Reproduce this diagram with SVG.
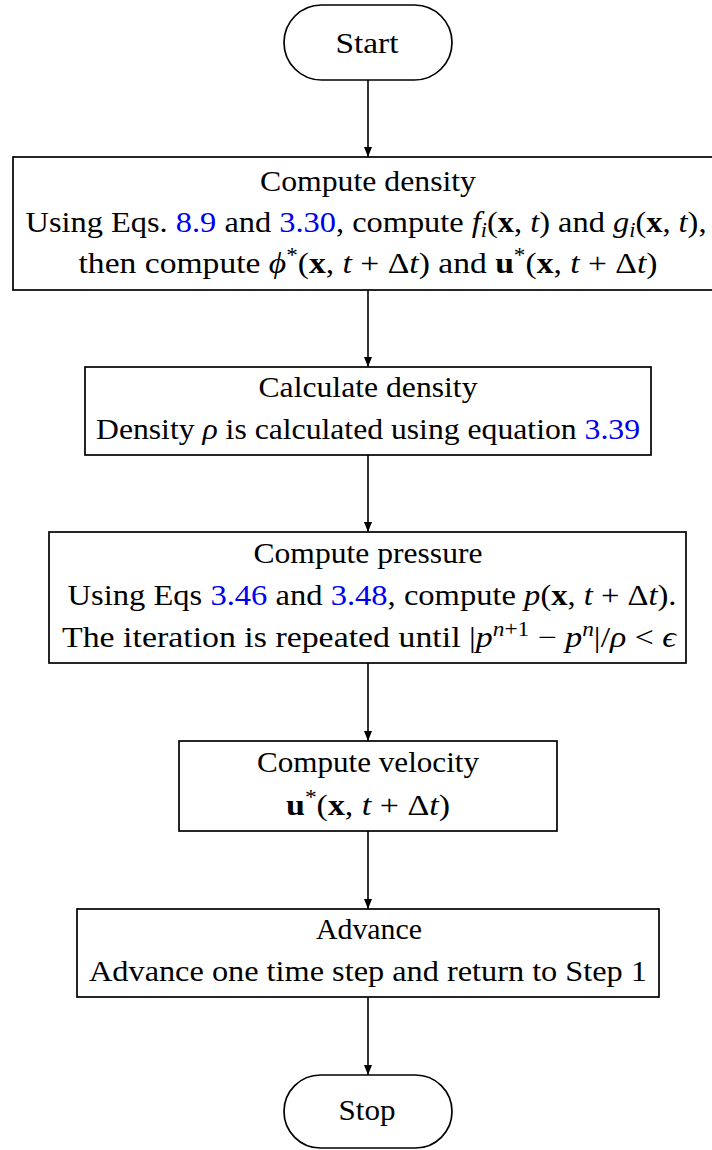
<svg xmlns="http://www.w3.org/2000/svg" width="712" height="1150" viewBox="0 0 712 1150">
<defs>
<marker id="ah" viewBox="0 0 10 10" refX="10" refY="5" markerWidth="10" markerHeight="10" markerUnits="userSpaceOnUse" orient="auto">
<path d="M0,1 L10,5 L0,9 Z" fill="#000"/>
</marker>
</defs>
<style>
.b{fill:#fff;stroke:#000;stroke-width:1.7}
text{font-size:29px;fill:#000;text-anchor:middle}
.i{font-style:italic}
.bf{font-weight:bold}
.r{fill:#0000ee}
.sub{font-size:20px;baseline-shift:-5px}
.sup{font-size:20px;baseline-shift:11px}
.c{stroke:#000;stroke-width:1.6;fill:none;marker-end:url(#ah)}
</style>
<rect width="712" height="1150" fill="#fff"/>
<g id="connectors">
<line class="c" x1="368" y1="80" x2="368" y2="157"/>
<line class="c" x1="368" y1="290" x2="368" y2="367"/>
<line class="c" x1="368" y1="455" x2="368" y2="532"/>
<line class="c" x1="368" y1="663" x2="368" y2="741"/>
<line class="c" x1="368" y1="831" x2="368" y2="909"/>
<line class="c" x1="368" y1="997" x2="368" y2="1075"/>
</g>
<g font-family="Liberation Serif">
<g id="start">
<rect class="b" x="284" y="5" width="168" height="75" rx="37.5"/>
<text x="367" y="53" textLength="63" lengthAdjust="spacingAndGlyphs">Start</text>
</g>
<g id="compute-density">
<rect class="b" x="13" y="157" width="712" height="133"/>
<text x="368" y="191" textLength="216" lengthAdjust="spacingAndGlyphs">Compute density</text>
<text x="366" y="232" textLength="681" lengthAdjust="spacingAndGlyphs">Using Eqs. <tspan class="r">8.9</tspan> and <tspan class="r">3.30</tspan>, compute <tspan class="i">f</tspan><tspan class="i sub">i</tspan>(<tspan class="bf">x</tspan>, <tspan class="i">t</tspan>) and <tspan class="i">g</tspan><tspan class="i sub">i</tspan>(<tspan class="bf">x</tspan>, <tspan class="i">t</tspan>),</text>
<text x="368" y="273" textLength="579" lengthAdjust="spacingAndGlyphs">then compute <tspan class="i">ϕ</tspan><tspan class="sup">*</tspan>(<tspan class="bf">x</tspan>, <tspan class="i">t</tspan> + Δ<tspan class="i">t</tspan>) and <tspan class="bf">u</tspan><tspan class="sup">*</tspan>(<tspan class="bf">x</tspan>, <tspan class="i">t</tspan> + Δ<tspan class="i">t</tspan>)</text>
</g>
<g id="calculate-density">
<rect class="b" x="85" y="367" width="566" height="88"/>
<text x="368" y="397" textLength="219" lengthAdjust="spacingAndGlyphs">Calculate density</text>
<text x="368" y="439" textLength="544" lengthAdjust="spacingAndGlyphs">Density <tspan class="i">ρ</tspan> is calculated using equation <tspan class="r">3.39</tspan></text>
</g>
<g id="compute-pressure">
<rect class="b" x="49" y="532" width="637" height="131"/>
<text x="368" y="563" textLength="229" lengthAdjust="spacingAndGlyphs">Compute pressure</text>
<text x="372" y="605" textLength="609" lengthAdjust="spacingAndGlyphs">Using Eqs <tspan class="r">3.46</tspan> and <tspan class="r">3.48</tspan>, compute <tspan class="i">p</tspan>(<tspan class="bf">x</tspan>, <tspan class="i">t</tspan> + Δ<tspan class="i">t</tspan>).</text>
<text x="369" y="647" textLength="614" lengthAdjust="spacingAndGlyphs">The iteration is repeated until |<tspan class="i">p</tspan><tspan class="sup"><tspan class="i">n</tspan>+1</tspan> − <tspan class="i">p</tspan><tspan class="sup i">n</tspan>|/<tspan class="i">ρ</tspan> &lt; <tspan class="i">ϵ</tspan></text>
</g>
<g id="compute-velocity">
<rect class="b" x="179" y="741" width="378" height="90"/>
<text x="368" y="772" textLength="222" lengthAdjust="spacingAndGlyphs">Compute velocity</text>
<text x="368" y="815" textLength="164" lengthAdjust="spacingAndGlyphs"><tspan class="bf">u</tspan><tspan class="sup">*</tspan>(<tspan class="bf">x</tspan>, <tspan class="i">t</tspan> + Δ<tspan class="i">t</tspan>)</text>
</g>
<g id="advance">
<rect class="b" x="77" y="909" width="582" height="88"/>
<text x="369" y="939" textLength="106" lengthAdjust="spacingAndGlyphs">Advance</text>
<text x="368" y="981" textLength="558" lengthAdjust="spacingAndGlyphs">Advance one time step and return to Step 1</text>
</g>
<g id="stop">
<rect class="b" x="284" y="1075" width="168" height="73" rx="36.5"/>
<text x="367" y="1120" textLength="57" lengthAdjust="spacingAndGlyphs">Stop</text>
</g>
</g>
</svg>
